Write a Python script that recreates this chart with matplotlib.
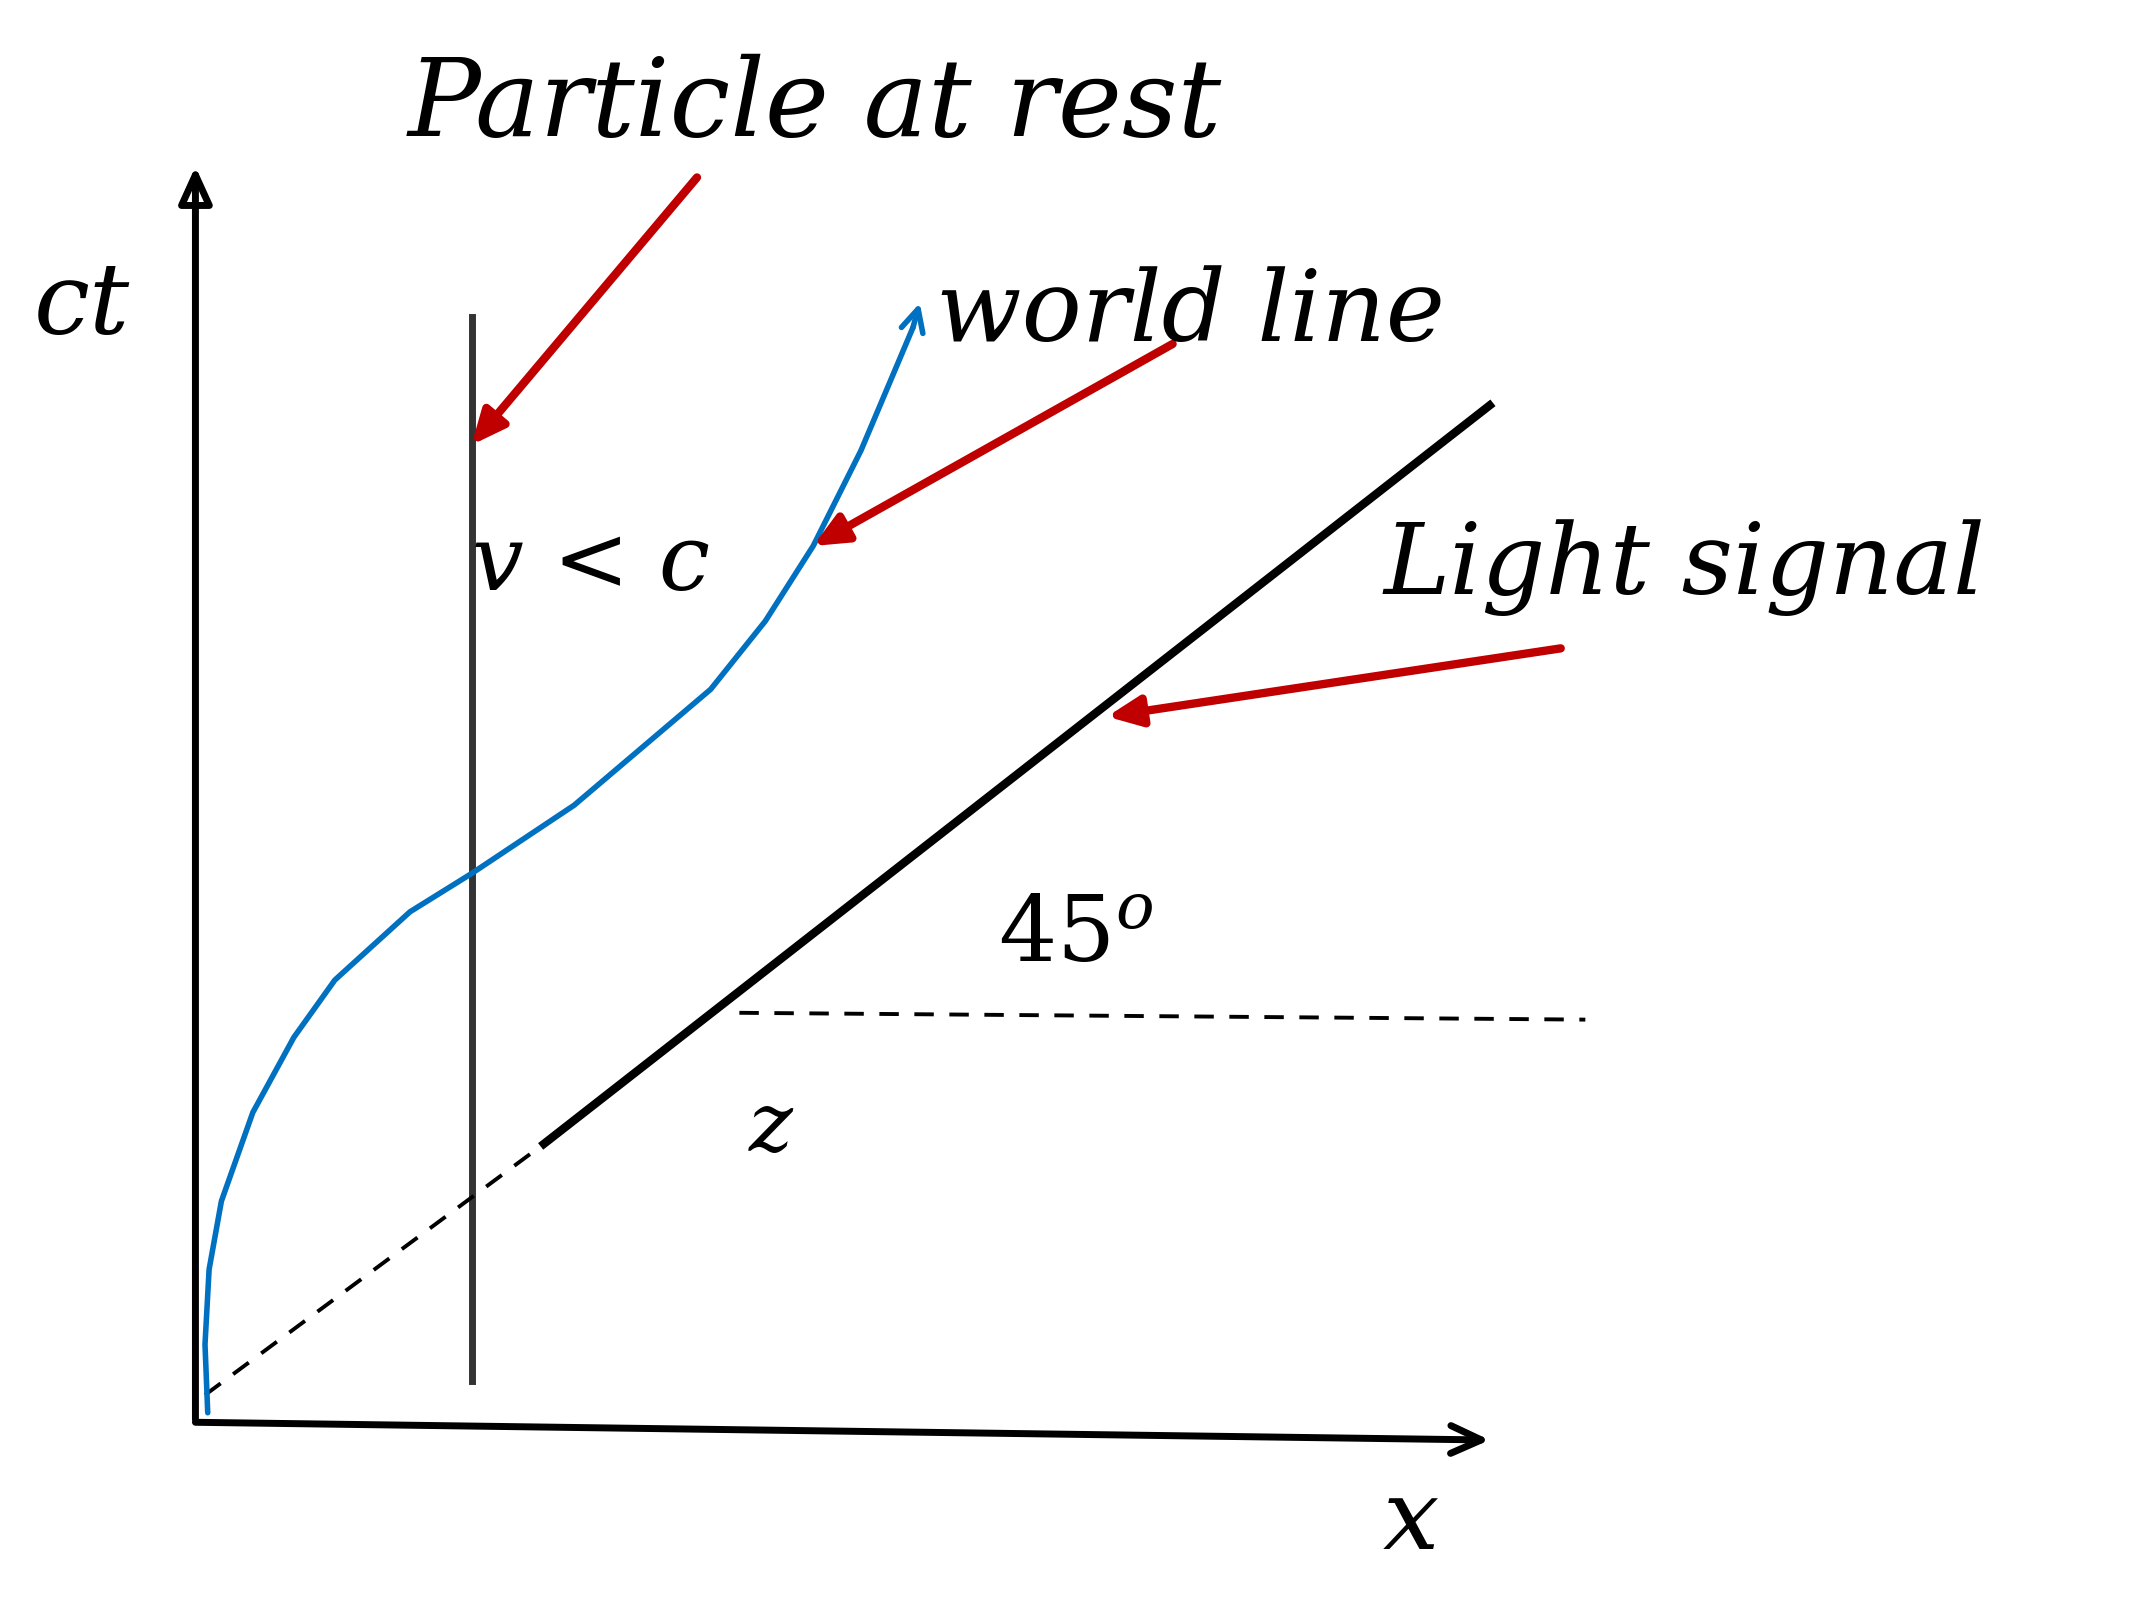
import matplotlib
matplotlib.use("Agg")
import matplotlib.pyplot as plt

# world line (blue) sample points, in picture units
world_x = [152, 150, 153, 162, 185, 215, 245, 300, 345, 420, 520, 560, 595, 630, 668]
world_y = [1035, 985, 930, 880, 815, 760, 718, 668, 640, 590, 505, 455, 400, 330, 240]
# light signal
light_x = [398, 1090]
light_y = [838, 297]
light_dash_x = [150, 398]
light_dash_y = [1022, 838]
# particle at rest
rest_x = [345, 345]
rest_y = [232, 1012]
# horizontal reference
horiz_x = [541, 1160]
horiz_y = [742, 747]

labels = [
    ("Particle at rest", 298, 100, 78),
    ("world line", 685, 250, 72),
    ("Light signal", 1012, 435, 72),
    ("ct", 25, 245, 72),
    ("x", 1012, 1135, 72),
    ("z", 548, 843, 60),
    ("v < c", 345, 432, 66),
]
red_arrows = [((510, 130), (345, 326)), ((858, 252), (595, 400)), ((1142, 475), (810, 525))]

fig = plt.figure(figsize=(21.32, 15.97), dpi=100)
ax = fig.add_axes([0, 0, 1, 1])
ax.set_xlim(0, 1560)
ax.set_ylim(1170, 0)
ax.axis("off")

# axes
ax.annotate("", xy=(143, 122), xytext=(143, 1040),
            arrowprops=dict(arrowstyle="-|>,head_length=2.2,head_width=1.0", lw=5, color="black", fill=False, shrinkA=0, shrinkB=0))
ax.annotate("", xy=(1090, 1055), xytext=(143, 1042),
            arrowprops=dict(arrowstyle="->,head_length=2.2,head_width=1.0", lw=5, color="black", shrinkA=0, shrinkB=0))

ax.plot(rest_x, rest_y, color="#333333", lw=5)
ax.plot(light_x, light_y, color="black", lw=6)
ax.plot(light_dash_x, light_dash_y, color="black", lw=2.8, ls=(0, (5, 4)))
ax.plot(horiz_x, horiz_y, color="black", lw=2.8, ls=(0, (5, 4)))

ax.plot(world_x, world_y, color="#0070C0", lw=4, solid_capstyle="round")
ax.annotate("", xy=(673, 222), xytext=(world_x[-1], world_y[-1]),
            arrowprops=dict(arrowstyle="->,head_length=1.6,head_width=0.8", lw=4, color="#0070C0", shrinkA=0, shrinkB=0))

for (x0, y0), (x1, y1) in red_arrows:
    ax.annotate("", xy=(x1, y1), xytext=(x0, y0),
                arrowprops=dict(arrowstyle="-|>,head_length=2.0,head_width=0.9", lw=6, color="#C00000", shrinkA=0, shrinkB=0))

for txt, x, y, fs in labels:
    ax.text(x, y, txt, fontsize=fs, family="DejaVu Serif", style="italic", ha="left", va="baseline")
ax.text(730, 705, r"$45^{o}$", fontsize=66, ha="left", va="baseline", math_fontfamily="dejavuserif")

fig.savefig("out.png", dpi=100)
